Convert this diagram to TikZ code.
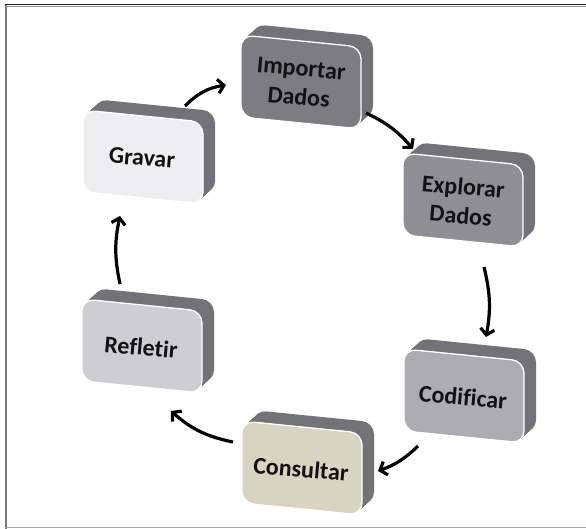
\documentclass[tikz,border=0pt]{standalone}
\usepackage{fontspec}
\setmainfont{Carlito}[Ligatures=NoCommon]
\usetikzlibrary{arrows.meta}

\definecolor{sidegray}{RGB}{114,114,119}
\definecolor{fimp}{RGB}{124,124,129}
\definecolor{fexp}{RGB}{142,142,147}
\definecolor{fcod}{RGB}{172,172,177}
\definecolor{fcon}{RGB}{215,212,194}
\definecolor{fref}{RGB}{206,206,210}
\definecolor{fgra}{RGB}{238,238,240}
\definecolor{textc}{RGB}{18,18,18}
\definecolor{framegray}{RGB}{120,120,120}

\tikzset{
  slabtext/.style={font=\bfseries\fontsize{24}{29}\selectfont, align=center,
    text=textc, rotate=-5, inner sep=0pt},
  flow/.style={line width=3.2pt, black,
    -{Straight Barb[length=6pt,width=14pt]}},
}

% an extruded, slightly slanted slab with a label on its front face
\newcommand\slabbox[6]{%
  \begin{scope}[shift={(#2,#3)}, yslant=-0.1]
    \foreach \k in {0,...,12}{
      \fill[sidegray, rounded corners=12pt, shift={(\k,{-\k})}]
        (-60,-41) rectangle (60,41);
    }
    \filldraw[fill=#4, draw=white, line width=1.3pt, rounded corners=12pt]
      (-60,-41) rectangle (60,41);
    \node[slabtext] (#1) at (-1,1) {#6};
  \end{scope}}

\begin{document}
\begin{tikzpicture}[x=1pt,y=-1pt]
  \useasboundingbox (0,0) rectangle (586,529);

  % frame
  \draw[framegray, line width=2pt] (6,4) -- (6,529);
  \draw[black!85, line width=1.3pt] (5,4.5) -- (586,4.5);
  \draw[black!40, line width=1pt] (5,6.2) -- (586,6.2);
  \draw[black!35, line width=1.2pt] (5,527.8) -- (586,527.8);

  % slabs
  \slabbox{imp}{301}{82}{fimp}{sidegray}{Importar\\Dados}
  \slabbox{exp}{463}{200}{fexp}{sidegray}{Explorar\\Dados}
  \slabbox{cod}{464}{396}{fcod}{sidegray}{Codificar}
  \slabbox{con}{302}{468}{fcon}{sidegray}{Consultar}
  \slabbox{ref}{142}{346}{fref}{sidegray}{Refletir}
  \slabbox{gra}{143}{157}{fgra}{sidegray}{Gravar}

  % arrow end points
  \coordinate (a1s) at (185,106);  \coordinate (a1e) at (226,85);
  \coordinate (a2s) at (366,113);  \coordinate (a2e) at (413,149);
  \coordinate (a3s) at (484,267);  \coordinate (a3e) at (486,337);
  \coordinate (a4s) at (418,446);  \coordinate (a4e) at (378,471);
  \coordinate (a5s) at (233,442);  \coordinate (a5e) at (171,411);
  \coordinate (a6s) at (120,284);  \coordinate (a6e) at (120,216);

  \draw[flow] (a1s) to[bend left=18] (a1e);
  \draw[flow] (a2s) to[bend left=12] (a2e);
  \draw[flow] (a3s) to[bend left=12] (a3e);
  \draw[flow] (a4s) to[bend left=12] (a4e);
  \draw[flow] (a5s) to[bend left=15] (a5e);
  \draw[flow] (a6s) to[bend left=12] (a6e);
\end{tikzpicture}
\end{document}
